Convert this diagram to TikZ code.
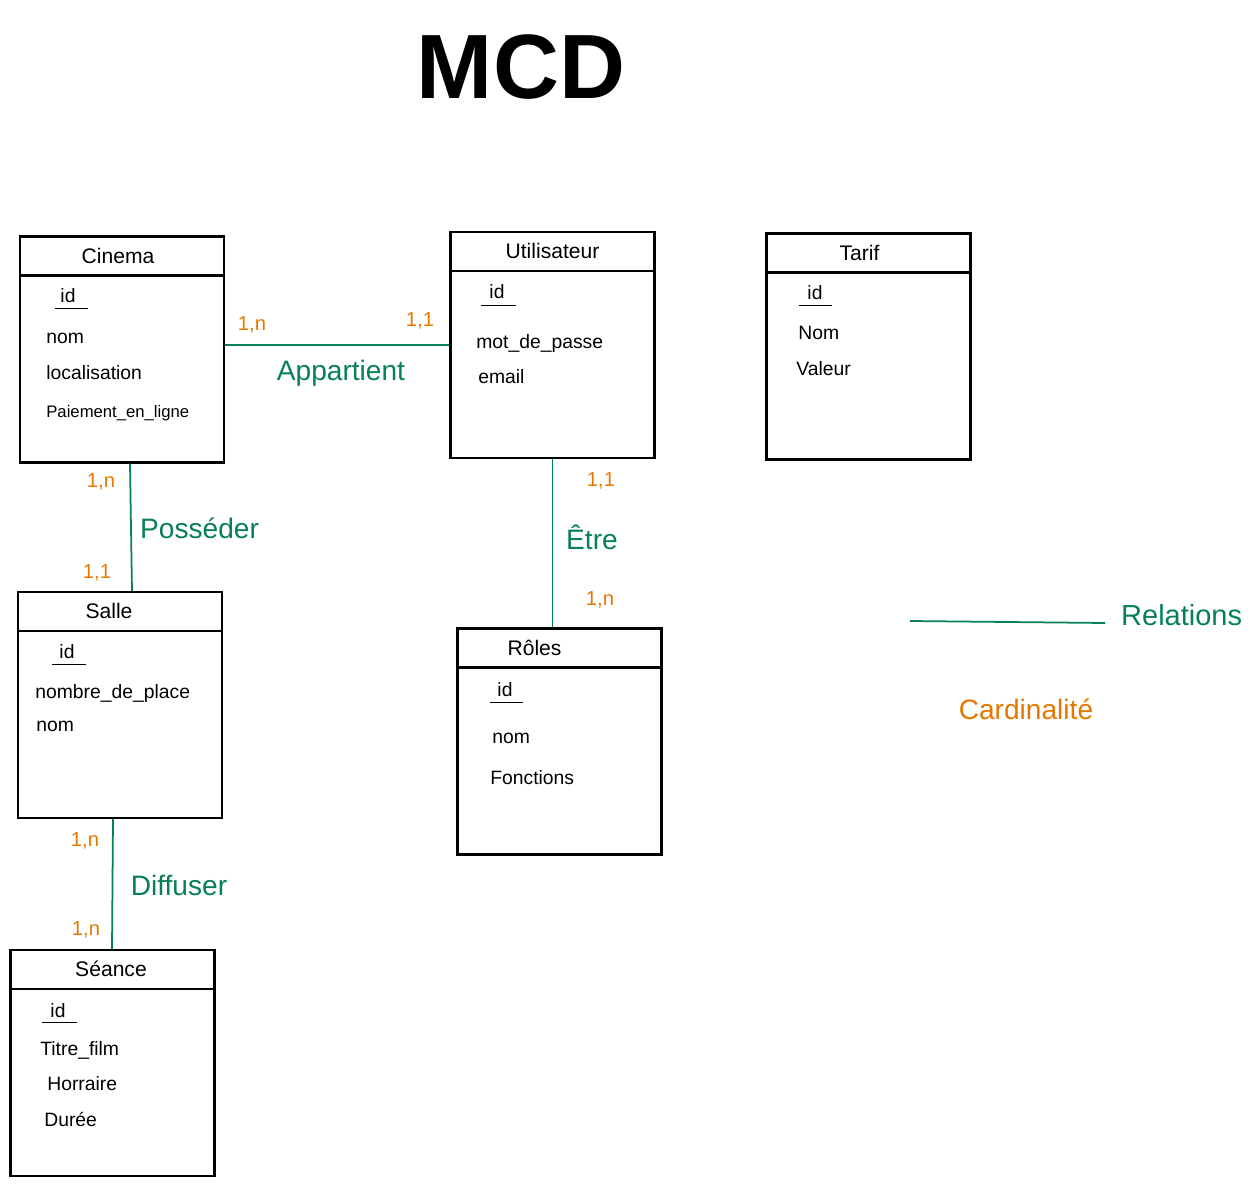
\documentclass[tikz,border=0pt]{standalone}
\usepackage{fontspec}
\setmainfont{Liberation Sans}
\usetikzlibrary{positioning}
\definecolor{mcdgreen}{RGB}{8,127,91}
\definecolor{mcdorange}{RGB}{230,119,0}
\tikzset{
  entity/.style={draw, line width=1.2pt, minimum width=4.08cm, minimum height=4.52cm, inner sep=0pt},
  etitle/.style={font=\fontsize{12}{14}\selectfont},
  attr/.style={anchor=west, inner sep=0pt, font=\fontsize{11}{13}\selectfont},
  keyattr/.style={inner sep=0pt, font=\fontsize{11}{13}\selectfont},
  rel/.style={draw=mcdgreen, line width=1pt},
  rellabel/.style={text=mcdgreen, font=\fontsize{16}{18}\selectfont},
  card/.style={text=mcdorange, font=\fontsize{11.5}{13}\selectfont},
}

\begin{document}
\begin{tikzpicture}[x=0.02cm, y=-0.02cm]
\useasboundingbox (0,0) rectangle (1258,1186);

% Title
\node[font=\fontsize{52}{56}\selectfont\bfseries] (mcd) at (521,67) {MCD};

% Entities
\node[entity] (cinema) at (122,349.5) {};
\node[entity] (util) at (552.5,345) {};
\node[entity] (tarif) at (868.5,346.5) {};
\node[entity] (salle) at (120,705) {};
\node[entity] (roles) at (559.5,741.5) {};
\node[entity] (seance) at (112.5,1063) {};

% Headers
\foreach \e/\t/\dx in {cinema/Cinema/-0.08, util/Utilisateur/0, tarif/Tarif/-0.18, salle/Salle/-0.22, roles/Rôles/-0.5, seance/Séance/-0.03}{
  \draw[line width=1.2pt] ([yshift=-0.8cm]\e.north west) -- ([yshift=-0.8cm]\e.north east);
  \node[etitle] (\e-title) at ([xshift=\dx cm, yshift=-0.4cm]\e.north) {\t};
}

% Cinema
\node[keyattr] (cinema-id) at (68,296) {id};
\draw (55,308) -- (88,308);
\node[attr] (cinema-nom) at (46,338) {nom};
\node[attr] (cinema-loc) at (46,373) {localisation};
\node[attr, font=\fontsize{9.5}{11}\selectfont] (cinema-pay) at (46,413) {Paiement\_en\_ligne};

% Utilisateur
\node[keyattr] (util-id) at (497,292) {id};
\draw (481,305) -- (516,305);
\node[attr] (util-mdp) at (476,344) {mot\_de\_passe};
\node[attr] (util-mail) at (478,377) {email};

% Tarif
\node[keyattr] (tarif-id) at (815,293) {id};
\draw (799,305) -- (832,305);
\node[attr] (tarif-nom) at (798,333) {Nom};
\node[attr] (tarif-val) at (796,369) {Valeur};

% Salle
\node[keyattr] (salle-id) at (67,652) {id};
\draw (52,664) -- (86,664);
\node[attr] (salle-nb) at (35,693) {nombre\_de\_place};
\node[attr] (salle-nom) at (36,726) {nom};

% Roles
\node[keyattr] (roles-id) at (505,690) {id};
\draw (490,702) -- (523,702);
\node[attr] (roles-nom) at (492,738) {nom};
\node[attr] (roles-fct) at (490,778) {Fonctions};

% Seance
\node[keyattr] (seance-id) at (58,1011) {id};
\draw (42,1022) -- (77,1022);
\node[attr] (seance-titre) at (40,1050) {Titre\_film};
\node[attr] (seance-hor) at (47,1084) {Horraire};
\node[attr] (seance-duree) at (44,1119) {Durée};

% Relations
\draw[rel] (util.west -| cinema.east) -- (util.west);
\node[rellabel] (appartient) at (341,373) {Appartient};
\node[card] (app-a) at (252,325) {1,n};
\node[card] (app-b) at (420,321) {1,1};

\draw[rel] ([xshift=0.16cm]cinema.south) -- ([xshift=0.24cm]salle.north);
\node[rellabel, anchor=west] (posseder) at (134,528) {Posséder};
\node[card] (pos-a) at (101,482) {1,n};
\node[card] (pos-b) at (97,573) {1,1};

\draw[rel] (util.south) -- (util.south |- roles.north);
\node[rellabel] (etre) at (592,537) {Être};
\node[card] (etre-a) at (601,481) {1,1};
\node[card] (etre-b) at (600,600) {1,n};

\draw[rel] ([xshift=-0.14cm]salle.south) -- ([xshift=-0.01cm]seance.north);
\node[rellabel] (diffuser) at (179,885) {Diffuser};
\node[card] (dif-a) at (85,841) {1,n};
\node[card] (dif-b) at (86,930) {1,n};

% Legend
\coordinate (leg-a) at (910,621);
\coordinate (leg-b) at (1105,623);
\draw[rel] (leg-a) -- (leg-b);
\node[rellabel, font=\fontsize{16.5}{19}\selectfont, right=0.2cm of leg-b, yshift=0.16cm] (relations) {Relations};
\node[card, font=\fontsize{16}{18}\selectfont] (cardinalite) at (1026,709) {Cardinalité};
\end{tikzpicture}
\end{document}
